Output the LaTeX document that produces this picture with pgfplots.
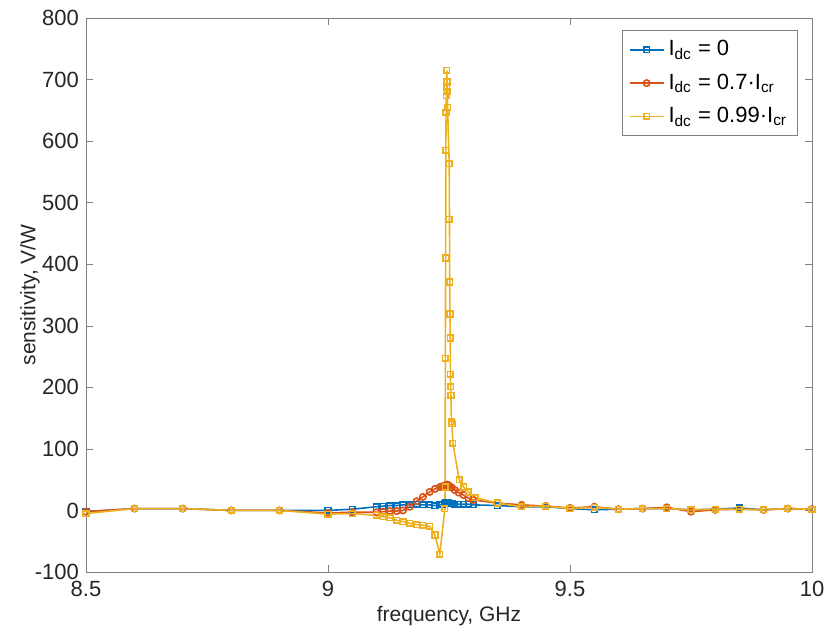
\documentclass[border=0pt]{standalone}
\usepackage{fontspec}
\setmainfont{Liberation Sans}
\usepackage{pgfplots}
\pgfplotsset{compat=1.18}

\definecolor{mblue}{rgb}{0,0.447,0.741}
\definecolor{morange}{rgb}{0.85,0.325,0.098}
\definecolor{myellow}{rgb}{0.929,0.694,0.125}

\begin{document}
\begin{tikzpicture}
\begin{axis}[
  name=ax,
  scale only axis,
  width=363pt, height=277pt,
  xmin=8.5, xmax=10, ymin=-100, ymax=800,
  xtick={8.5,9,9.5,10},
  ytick={-100,0,...,800},
  xticklabels={8.5,9,9.5,10},
  tick align=inside,
  major tick length=3.5pt,
  axis line style={black!50},
  tick style={black!50},
  tick label style={font=\fontsize{11}{12}\selectfont, text=black!85},
  xticklabel style={yshift=-1pt},
  /pgf/number format/assume math mode=true,
  xlabel={frequency, GHz},
  ylabel={sensitivity, V/W},
  label style={font=\fontsize{10.5}{12}\selectfont, text=black!85},
  xlabel style={at={(axis description cs:0.5,-0.08)}, anchor=center},
  ylabel style={at={(axis description cs:-0.0771,0.5)}, anchor=center},
  legend style={at={(0.98,0.978)}, anchor=north east, draw=black!50,
    font=\fontsize{11}{12}\selectfont, row sep=3.5pt, inner sep=3pt},
  legend cell align=left,
  every axis plot/.append style={line width=0.8pt},
]
\addplot[mblue, mark=square, mark size=1.4pt] coordinates {
(8.5,-2)(8.6,3)(8.7,3)(8.8,0)(8.9,0)(9.0,0)(9.05,2)(9.1,6)(9.114,7)(9.128,8)
(9.142,8)(9.155,9)(9.169,9)(9.183,10)(9.196,9)(9.21,9)(9.221,8)(9.231,9)(9.236,10)
(9.24,11)(9.243,12)(9.246,13)(9.249,12)(9.252,11)(9.256,11)(9.262,10)(9.27,10)
(9.28,10)(9.29,10)(9.3,9)(9.35,8)(9.4,6)(9.45,6)(9.5,3)(9.55,1)(9.6,2)(9.65,3)
(9.7,3)(9.75,1)(9.8,2)(9.85,4)(9.9,1)(9.95,3)(10,2)
};
\addlegendentry{I\textsubscript{dc} = 0}
\addplot[morange, mark=o, mark size=1.6pt] coordinates {
(8.5,-2)(8.6,3)(8.7,3)(8.8,0)(8.9,0)(9.0,-4)(9.05,-3)(9.1,-3)(9.114,-2)(9.128,-1)
(9.142,-1)(9.155,0)(9.169,6)(9.183,15)(9.196,22)(9.21,30)(9.221,35)(9.231,38)
(9.236,39)(9.24,40)(9.243,41)(9.246,42)(9.249,41)(9.252,39)(9.256,37)(9.262,33)
(9.27,29)(9.28,25)(9.29,20)(9.3,17)(9.35,12)(9.4,9)(9.45,7)(9.5,4)(9.55,6)(9.6,2)
(9.65,3)(9.7,5)(9.75,-2)(9.8,1)(9.85,2)(9.9,1)(9.95,3)(10,2)
};
\addlegendentry{I\textsubscript{dc} = 0.7·I\textsubscript{cr}}
\addplot[myellow, mark=square, mark size=1.4pt] coordinates {
(8.5,-5)(8.6,3)(8.7,3)(8.8,0)(8.9,0)(9.0,-6)(9.05,-5)(9.1,-8)(9.114,-10)(9.128,-12)
(9.142,-16)(9.155,-18)(9.169,-21)(9.183,-23)(9.196,-24)(9.21,-26)(9.221,-40)(9.231,-71)
(9.2415,3)(9.242,38)(9.2425,247)(9.243,410)(9.2435,585)(9.244,647)(9.2445,674)
(9.245,688)(9.2455,715)(9.246,696)(9.2465,680)(9.247,655)(9.2505,563)(9.251,473)
(9.2515,371)(9.252,319)(9.2525,280)(9.253,221)(9.2535,201)(9.254,187)(9.255,144)
(9.256,141)(9.258,109)(9.271,50)(9.28,38)(9.29,30)(9.304,21)(9.35,12)(9.4,6)(9.45,7)
(9.5,3)(9.55,5)(9.6,2)(9.65,3)(9.7,3)(9.75,1)(9.8,2)(9.85,2)(9.9,1)(9.95,3)(10,2)
};
\addlegendentry{I\textsubscript{dc} = 0.99·I\textsubscript{cr}}
\end{axis}
\pgfresetboundingbox
\path ([xshift=-43pt,yshift=-30.5pt]ax.south west) rectangle ([xshift=6.5pt,yshift=9pt]ax.north east);
\end{tikzpicture}
\end{document}
